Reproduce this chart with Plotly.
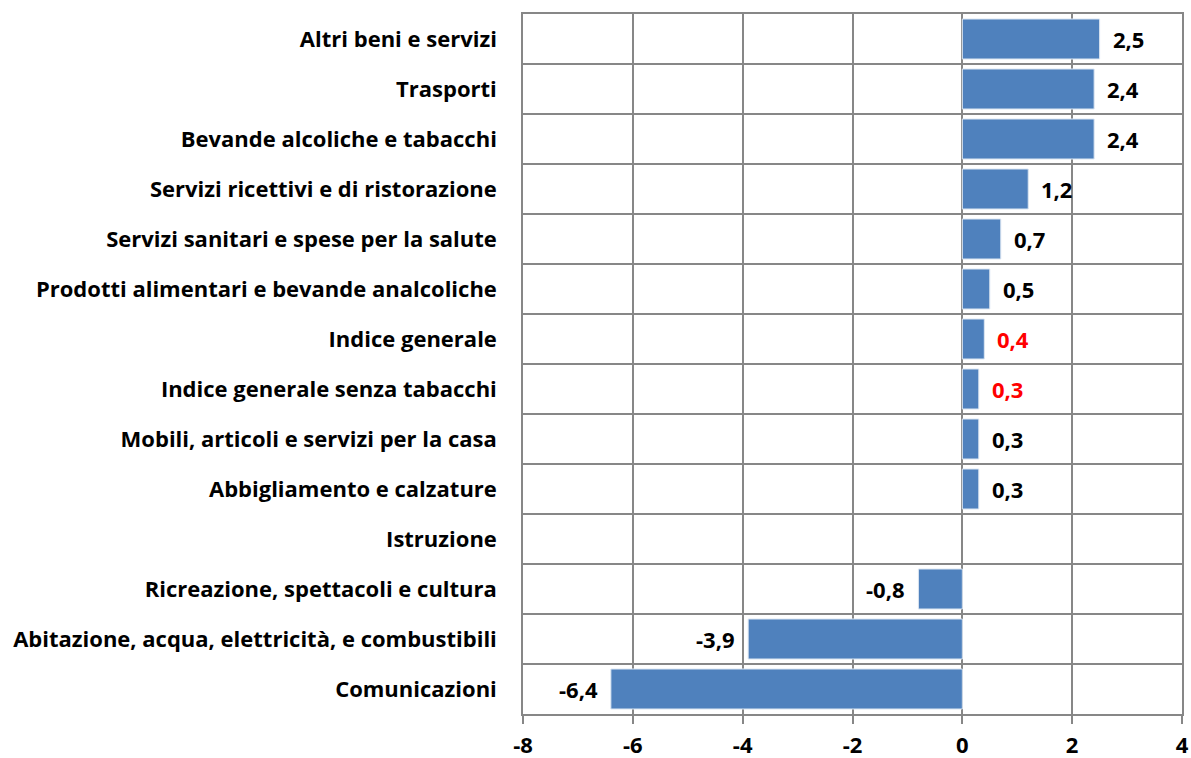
import plotly.graph_objects as go

categories = [
    "Altri beni e servizi",
    "Trasporti",
    "Bevande alcoliche e tabacchi",
    "Servizi ricettivi e di ristorazione",
    "Servizi sanitari e spese per la salute",
    "Prodotti alimentari e bevande analcoliche",
    "Indice generale",
    "Indice generale senza tabacchi",
    "Mobili, articoli e servizi per la casa",
    "Abbigliamento e calzature",
    "Istruzione",
    "Ricreazione, spettacoli e cultura",
    "Abitazione, acqua, elettricità, e combustibili",
    "Comunicazioni",
]
values = [2.5, 2.4, 2.4, 1.2, 0.7, 0.5, 0.4, 0.3, 0.3, 0.3, None, -0.8, -3.9, -6.4]
highlight = ["Indice generale", "Indice generale senza tabacchi"]
x_tickvals = [-8, -6, -4, -2, 0, 2, 4]
x_ticktext = ["-8", "-6", "-4", "-2", "0", "2", "4"]

FONT = "Open Sans"
FS = 22
GRID = "#878787"

fig = go.Figure()
fig.add_trace(go.Bar(
    x=values, y=categories, orientation="h",
    width=0.8,
    marker=dict(color="#4F81BD", line=dict(color="#dce6f2", width=1)),
    hoverinfo="x+y",
))

for c, v in zip(categories, values):
    if v is None:
        continue
    txt = f"{v:.1f}".replace(".", ",")
    fig.add_annotation(
        x=v, y=c, text=txt, showarrow=False,
        xanchor="left" if v >= 0 else "right",
        xshift=11 if v >= 0 else -11,
        font=dict(family=FONT, size=FS, color="red" if c in highlight else "black", weight="bold"),
    )

fig.update_layout(
    width=1191, height=758,
    margin=dict(l=523, r=9, t=14, b=44),
    paper_bgcolor="white", plot_bgcolor="white",
    showlegend=False,
    font=dict(family=FONT, size=FS, color="black", weight="bold"),
    xaxis=dict(
        range=[-8, 4], tickmode="array", tickvals=x_tickvals, ticktext=x_ticktext,
        automargin=False,
        showgrid=True, gridcolor=GRID, gridwidth=1.5,
        zeroline=True, zerolinecolor=GRID, zerolinewidth=1.5,
        showline=True, linecolor=GRID, linewidth=1.5, mirror=True,
        ticks="outside", ticklen=8, tickcolor=GRID, tickwidth=1.5,
        ticklabelstandoff=3,
        tickfont=dict(family=FONT, size=FS, color="black", weight="bold"),
    ),
    yaxis=dict(
        categoryorder="array", categoryarray=categories,
        autorange="reversed", automargin=False,
        tickson="boundaries",
        showgrid=True, gridcolor=GRID, gridwidth=1.5,
        showline=True, linecolor=GRID, linewidth=1.5, mirror=True,
        ticks="", ticklabelstandoff=20,
        tickfont=dict(family=FONT, size=FS, color="black", weight="bold"),
    ),
)

fig.write_html("out.html", config={"displayModeBar": False},
               post_script="document.body.style.margin='0';")
